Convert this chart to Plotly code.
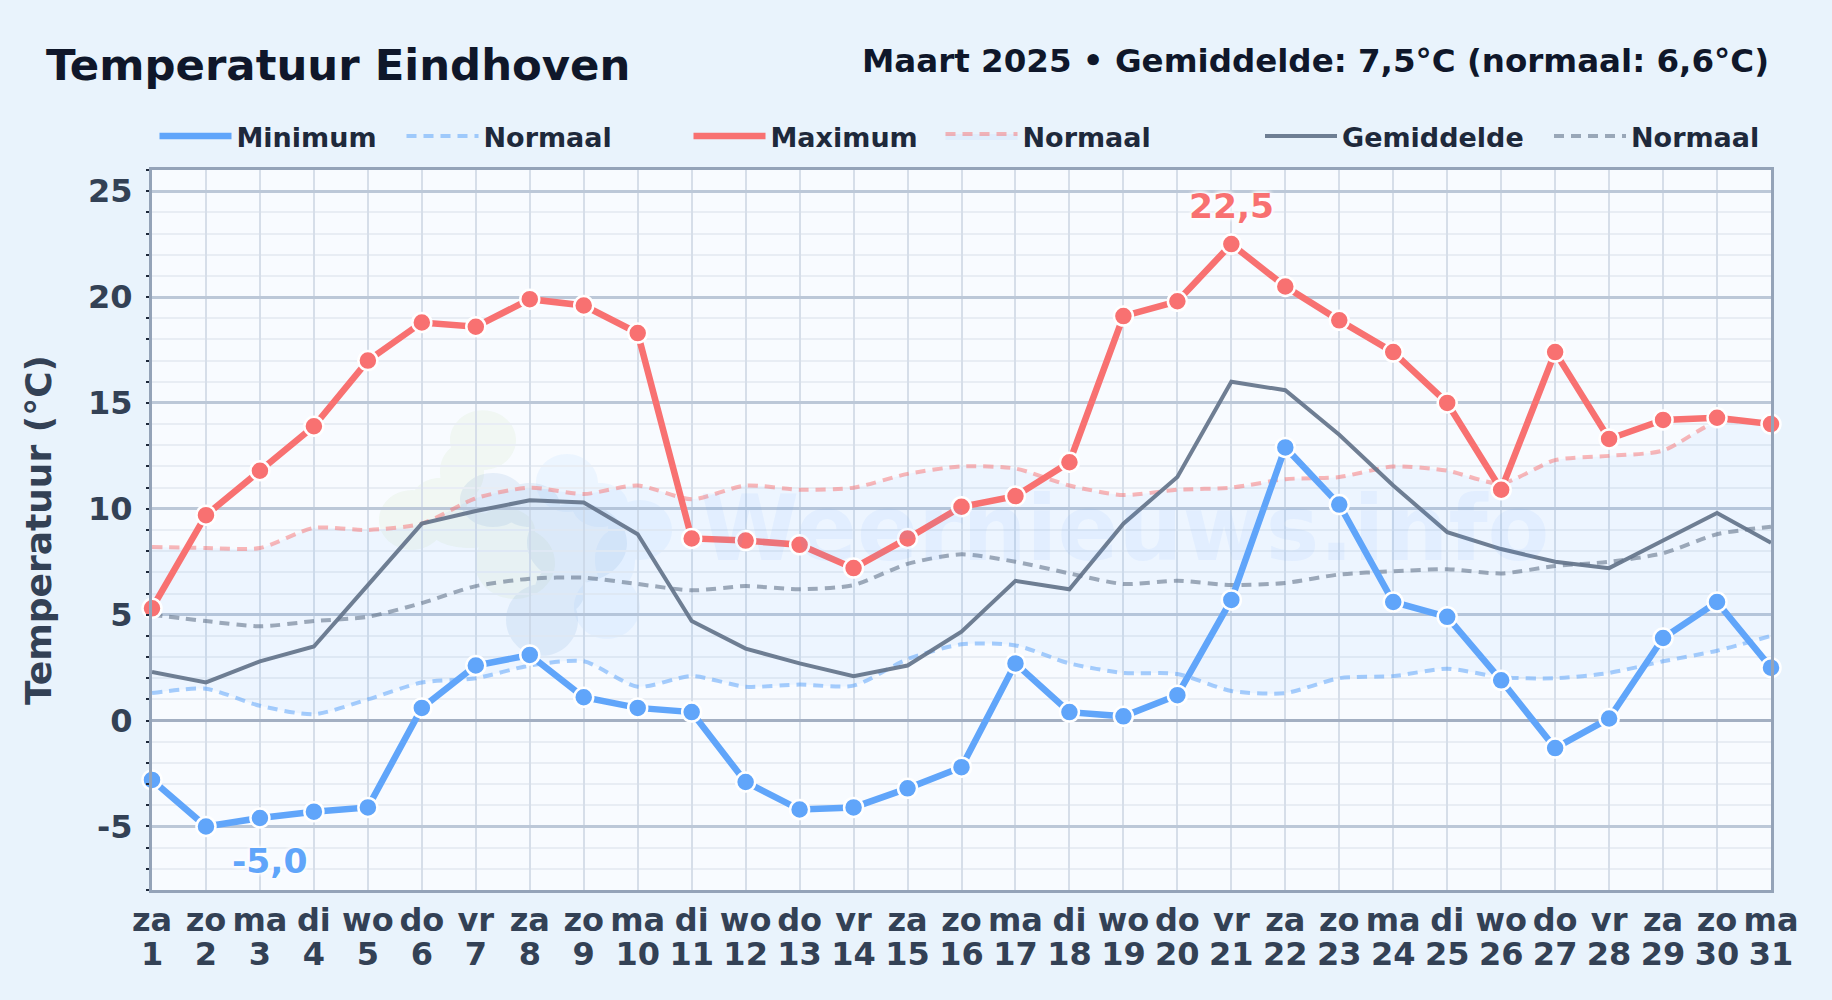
import plotly.graph_objects as go

days = list(range(1, 32))
weekdays = ["za","zo","ma","di","wo","do","vr","za","zo","ma","di","wo","do","vr","za","zo","ma","di","wo","do","vr","za","zo","ma","di","wo","do","vr","za","zo","ma"]
y_ticks = [-5, 0, 5, 10, 15, 20, 25]
y_labels = ["-5", "0", "5", "10", "15", "20", "25"]
t_max = [5.3,9.7,11.8,13.9,17.0,18.8,18.6,19.9,19.6,18.3,8.6,8.5,8.3,7.2,8.6,10.1,10.6,12.2,19.1,19.8,22.5,20.5,18.9,17.4,15.0,10.9,17.4,13.3,14.2,14.3,14.0]
t_min = [-2.8,-5.0,-4.6,-4.3,-4.1,0.6,2.6,3.1,1.1,0.6,0.4,-2.9,-4.2,-4.1,-3.2,-2.2,2.7,0.4,0.2,1.2,5.7,12.9,10.2,5.6,4.9,1.9,-1.3,0.1,3.9,5.6,2.5]
t_avg = [2.3,1.8,2.8,3.5,6.4,9.3,9.9,10.4,10.3,8.8,4.7,3.4,2.7,2.1,2.6,4.2,6.6,6.2,9.3,11.5,16.0,15.6,13.5,11.1,8.9,8.1,7.5,7.2,8.5,9.8,8.4]
norm_min = [1.3,1.5,0.7,0.3,1.0,1.8,2.0,2.6,2.8,1.6,2.1,1.6,1.7,1.65,2.9,3.6,3.55,2.7,2.25,2.2,1.4,1.3,2.0,2.1,2.45,2.05,2.0,2.25,2.8,3.3,4.0]
norm_max = [8.2,8.15,8.15,9.1,9.0,9.3,10.5,11.0,10.7,11.1,10.45,11.1,10.9,11.0,11.65,12.0,11.9,11.1,10.65,10.9,11.0,11.4,11.5,12.0,11.8,11.2,12.3,12.5,12.75,14.1,14.0]
norm_avg = [5.0,4.7,4.45,4.7,4.9,5.55,6.35,6.7,6.75,6.45,6.15,6.35,6.2,6.4,7.4,7.85,7.5,6.95,6.45,6.6,6.4,6.5,6.9,7.05,7.15,6.95,7.3,7.5,7.9,8.8,9.15]

W, H = 1832, 1000
L, R, T, B = 152, 1771, 169.5, 890.5
FONT = "DejaVu Sans"
BLUE, RED, SLATE = "#60A5FA", "#F87171", "#64748B"
WHITE_GLOW = "0 0 5px #fff, 0 0 5px #fff, 0 0 5px #fff"

fig = go.Figure()
DASH = "10px,7px"
def normal(y, color, legend, **kw):
    fig.add_trace(go.Scatter(x=days, y=y, mode="lines", name="Normaal", legend=legend, legendrank=2, cliponaxis=False,
                             line=dict(color=color, width=4, dash=DASH, shape="spline", smoothing=0.7), **kw))
normal(norm_min, "rgba(96,165,250,0.55)", "legend")
normal(norm_max, "rgba(248,113,113,0.5)", "legend2", fill="tonexty", fillcolor="rgba(96,165,250,0.07)")
normal(norm_avg, "rgba(100,116,139,0.6)", "legend3")
fig.add_trace(go.Scatter(x=days, y=t_avg, mode="lines", name="Gemiddelde", legend="legend3", legendrank=1,
                         line=dict(color="rgba(100,116,139,0.93)", width=4)))
def main(y, color, name, legend):
    fig.add_trace(go.Scatter(x=days, y=y, mode="lines", name=name, legend=legend, legendrank=1, cliponaxis=False,
                             line=dict(color=color, width=6.5)))
main(t_min, BLUE, "Minimum", "legend")
main(t_max, RED, "Maximum", "legend2")
for y, color, name in [(t_min, BLUE, "Minimum"), (t_max, RED, "Maximum")]:
    fig.add_trace(go.Scatter(x=days, y=y, mode="markers", name=name, showlegend=False, cliponaxis=False,
                             marker=dict(color=color, size=19, line=dict(color="white", width=2.5))))
# carrier for the second row of x tick labels
fig.add_trace(go.Scatter(x=days, y=t_avg, xaxis="x2", mode="lines", line=dict(width=0), showlegend=False, hoverinfo="skip"))

# watermark logo: unions of soft ellipses
def fx(px): return (px - L) / (R - L)
def fy(py): return (B - py) / (B - T)
def blob(ellipses):
    k = 0.5523
    parts = []
    for cx, cy, rx, ry in ellipses:
        x0, y0 = fx(cx), fy(cy)
        a, b = rx / (R - L), ry / (B - T)
        parts.append(
            f"M{x0-a},{y0} C{x0-a},{y0+k*b} {x0-k*a},{y0+b} {x0},{y0+b} "
            f"C{x0+k*a},{y0+b} {x0+a},{y0+k*b} {x0+a},{y0} "
            f"C{x0+a},{y0-k*b} {x0+k*a},{y0-b} {x0},{y0-b} "
            f"C{x0-k*a},{y0-b} {x0-a},{y0-k*b} {x0-a},{y0} Z")
    return " ".join(parts)
green = [(483,440,33,30),(462,472,22,28),(440,500,28,22),(412,520,33,30),(470,530,40,18),(515,563,40,36),(505,530,30,22)]
light = [(567,483,31,29),(600,505,28,22),(640,530,32,30),(615,560,20,30),(607,607,33,32)]
dark = [(493,500,33,27),(530,505,30,22),(577,543,50,40),(560,590,25,25),(542,620,36,36)]
shapes = [dict(type="path", layer="below", xref="paper", yref="paper", path=blob(e), fillcolor=c, fillrule="nonzero", line=dict(width=0))
          for e, c in [(green,"rgba(190,225,160,0.13)"),(light,"rgba(96,180,250,0.08)"),(dark,"rgba(70,130,200,0.10)")]]

annotations = [
    dict(text="<b>Weernieuws.info</b>", xref="paper", yref="paper", x=fx(1124), y=fy(528), showarrow=False,
         font=dict(family=FONT, size=90, color="rgba(96,165,250,0.075)")),
    dict(text="<b>Maart 2025 • Gemiddelde: 7,5°C (normaal: 6,6°C)</b>", xref="paper", yref="paper", x=1, y=fy(60),
         xanchor="right", yanchor="middle", showarrow=False, font=dict(family=FONT, size=32.5, color="#0F172A")),
    dict(text="<b>22,5</b>", x=21, y=max(t_max), yshift=38, showarrow=False,
         font=dict(family=FONT, size=34.5, color=RED, shadow=WHITE_GLOW)),
    dict(text="<b>-5,0</b>", x=2, y=min(t_min), xshift=64, yshift=-35, showarrow=False,
         font=dict(family=FONT, size=34.5, color=BLUE, shadow=WHITE_GLOW)),
]

def legend_at(px, entry):
    return dict(x=px / W, y=1 - 136.5 / H, xref="container", yref="container", xanchor="left", yanchor="middle",
                orientation="h", itemwidth=72, bgcolor="rgba(0,0,0,0)", tracegroupgap=0, traceorder="normal",
                entrywidth=entry, entrywidthmode="pixels",
                font=dict(family=FONT, size=27, color="#1E293B", weight="bold"), itemclick=False, itemdoubleclick=False)

TICK_FONT = dict(family=FONT, size=32, color="#334155", weight="bold")
fig.update_layout(
    width=W, height=H, autosize=False,
    margin=dict(l=L, r=W - R, t=T, b=H - B, autoexpand=False),
    paper_bgcolor="#E9F3FC", plot_bgcolor="#F8FBFF",
    font=dict(family=FONT),
    title=dict(text="<b>Temperatuur Eindhoven</b>", x=46 / W, xanchor="left", y=1 - 65 / H, yanchor="middle",
               xref="container", yref="container", font=dict(family=FONT, size=43.4, color="#0F172A")),
    legend=legend_at(154.5, 160), legend2=legend_at(688.5, 165), legend3=legend_at(1260, 202),
    shapes=shapes, annotations=annotations,
    xaxis=dict(range=[1, 31], tickmode="array", tickvals=days, ticktext=weekdays, tickangle=0,
               showline=True, mirror=True, linecolor="#94A3B8", linewidth=3,
               showgrid=True, gridcolor="#D6DEE9", gridwidth=2, zeroline=False, ticks="", ticklabelstandoff=0,
               tickfont=TICK_FONT),
    xaxis2=dict(range=[1, 31], overlaying="x", side="bottom", anchor="y", tickmode="array", tickvals=days, ticktext=days,
                tickangle=0, showgrid=False, zeroline=False, ticks="", ticklabelstandoff=42, tickfont=TICK_FONT),
    yaxis=dict(range=[-8, 26], tickmode="array", tickvals=y_ticks, ticktext=y_labels, showline=True, mirror=True,
               linecolor="#94A3B8", linewidth=3,
               showgrid=True, gridcolor="#BCC8D8", gridwidth=3, zeroline=True, zerolinecolor="#A3AFC2", zerolinewidth=3,
               ticks="", ticklabelstandoff=10, tickfont=TICK_FONT,
               title=dict(text="<b>Temperatuur (°C)</b>", standoff=26, font=dict(family=FONT, size=36, color="#334155")),
               minor=dict(dtick=1, tick0=0, showgrid=True, gridcolor="#E8EDF4", gridwidth=2,
                          ticks="outside", ticklen=3, tickwidth=2, tickcolor="#1E293B")),
)
fig.write_html("out.html", config=dict(displayModeBar=False),
               post_script="document.body.style.margin='0';document.body.style.background='#E9F3FC';")
